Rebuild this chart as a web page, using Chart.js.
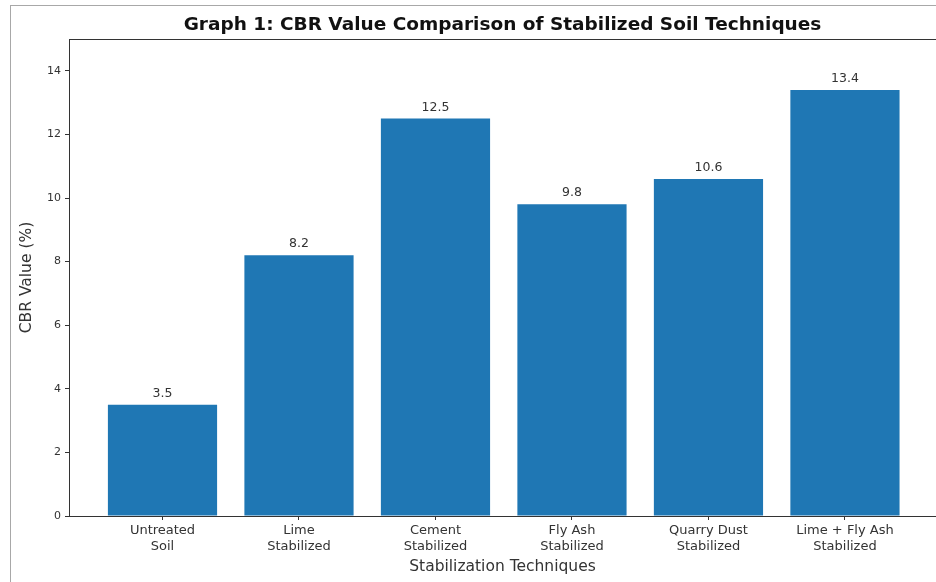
<!DOCTYPE html>
<html>
<head>
<meta charset="utf-8">
<script src="https://cdn.jsdelivr.net/npm/chart.js@4.4.0/dist/chart.umd.min.js"></script>
<style>
  html, body { margin: 0; padding: 0; background: #fff; overflow: hidden; }
  #wrap { position: relative; width: 936px; height: 582px; }
  #frame { position: absolute; left: 10px; top: 5px; right: -5px; bottom: -5px; border-left: 1.5px solid #a8a8a8; border-top: 1.5px solid #a8a8a8; pointer-events: none; }
  canvas { position: absolute; left: 0; top: 0; }
</style>
</head>
<body>
<div id="wrap">
  <canvas id="c" width="936" height="582"></canvas>
  <div id="frame"></div>
</div>
<script>
const categories = [
  ["Untreated", "Soil"],
  ["Lime", "Stabilized"],
  ["Cement", "Stabilized"],
  ["Fly Ash", "Stabilized"],
  ["Quarry Dust", "Stabilized"],
  ["Lime + Fly Ash", "Stabilized"]
];
const cbrValues = [3.5, 8.2, 12.5, 9.8, 10.6, 13.4];
const yTicks = [0, 2, 4, 6, 8, 10, 12, 14];

const FONT = "'DejaVu Sans', sans-serif";
const AXIS = '#333333';

const valueLabels = {
  id: 'valueLabels',
  afterDatasetsDraw(chart) {
    const ctx = chart.ctx;
    const meta = chart.getDatasetMeta(0);
    ctx.save();
    ctx.font = '12.5px ' + FONT;
    ctx.fillStyle = '#333';
    ctx.textAlign = 'center';
    ctx.textBaseline = 'alphabetic';
    meta.data.forEach((bar, i) => {
      ctx.fillText(String(cbrValues[i]), bar.x, bar.y - 8);
    });
    ctx.restore();
  }
};

const topSpine = {
  id: 'topSpine',
  afterDraw(chart) {
    const a = chart.chartArea, ctx = chart.ctx;
    ctx.save();
    ctx.strokeStyle = AXIS;
    ctx.lineWidth = 1;
    ctx.beginPath();
    ctx.moveTo(a.left, a.top + 0.5);
    ctx.lineTo(a.right + 5, a.top + 0.5);
    ctx.stroke();
    ctx.restore();
  }
};

new Chart(document.getElementById('c'), {
  type: 'bar',
  data: {
    datasets: [{
      data: cbrValues.map((v, i) => ({ x: i, y: v })),
      backgroundColor: '#1f77b4',
      borderWidth: 0,
      inflateAmount: 0,
      categoryPercentage: 0.8,
      barPercentage: 1.0
    }]
  },
  options: {
    responsive: false,
    animation: false,
    layout: { padding: { left: 0, right: 0, top: 0, bottom: 0 } },
    plugins: {
      legend: { display: false },
      tooltip: { enabled: false },
      title: {
        display: true,
        fullSize: false,
        text: 'Graph 1: CBR Value Comparison of Stabilized Soil Techniques',
        color: '#111',
        font: { family: FONT, size: 18.5, weight: 'bold', lineHeight: 1.2 },
        padding: { top: 13.9, bottom: 2.9 }
      }
    },
    scales: {
      x: {
        type: 'linear',
        offset: false,
        min: -0.685,
        max: 5.667,
        afterBuildTicks(scale) { scale.ticks = categories.map((_, i) => ({ value: i })); },
        afterFit(scale) { scale.height = 66; },
        ticks: {
          callback: (v) => categories[v] || '',
          color: '#333',
          font: { family: FONT, size: 13, lineHeight: 1.23 },
          padding: 3,
          maxRotation: 0,
          autoSkip: false
        },
        grid: { display: true, offset: false, drawOnChartArea: false, drawTicks: true, tickLength: 4, color: AXIS, lineWidth: 1 },
        border: { display: true, color: AXIS, width: 1 },
        title: {
          display: true,
          text: 'Stabilization Techniques',
          color: '#333',
          font: { family: FONT, size: 15.5, lineHeight: 1.2 },
          padding: { top: 6, bottom: 6 }
        }
      },
      y: {
        min: 0,
        max: 15,
        afterBuildTicks(scale) { scale.ticks = yTicks.map(v => ({ value: v })); },
        afterFit(scale) { scale.width = 69; },
        ticks: {
          color: '#333',
          font: { family: FONT, size: 11 },
          padding: 4
        },
        grid: { display: true, drawOnChartArea: false, drawTicks: true, tickLength: 4, color: AXIS, lineWidth: 1 },
        border: { display: true, color: AXIS, width: 1 },
        title: {
          display: true,
          text: 'CBR Value (%)',
          color: '#333',
          font: { family: FONT, size: 15.5, lineHeight: 1.2 },
          padding: { top: 17.7, bottom: 17.7 }
        }
      }
    }
  },
  plugins: [valueLabels, topSpine]
});
</script>
</body>
</html>
